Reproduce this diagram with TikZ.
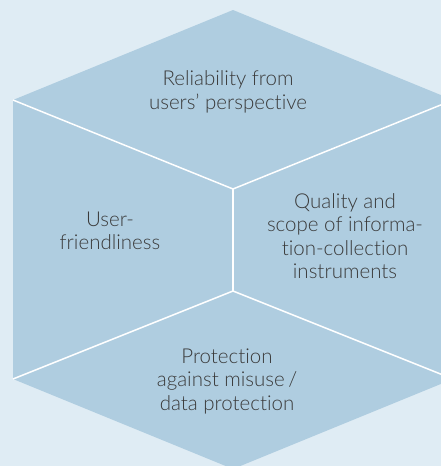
\documentclass[tikz,border=0pt]{standalone}
\usepackage{fontspec}
\setmainfont{Lato}[UprightFont=* Light, Ligatures=NoCommon]

\definecolor{bgblue}{HTML}{DFECF4}
\definecolor{hexblue}{HTML}{AFCDE0}
\definecolor{textgray}{HTML}{3A3A3A}

\begin{document}
\begin{tikzpicture}[x=1pt, y=-1pt,
   label_style/.style={align=center, text=textgray, font=\fontsize{20.5}{23.5}\selectfont},
   cut_style/.style={draw=white, line width=1.5pt}]

    \fill[bgblue] (0,0) rectangle (441,466);
    \useasboundingbox (0,0) rectangle (441,466);
    \clip (0,0) rectangle (441,466);

    % outer corners and the two inner joints
    \coordinate (top) at (233,10);
    \coordinate (ur) at (453,100);
    \coordinate (lr) at (453,379);
    \coordinate (bot) at (233,469);
    \coordinate (ll) at (13,379);
    \coordinate (ul) at (13,100);
    \coordinate (j1) at (233,189);
    \coordinate (j2) at (233,291);

    \fill[hexblue] (top) -- (ur) -- (lr) -- (bot) -- (ll) -- (ul) -- cycle;

    \draw[cut_style] (ul) -- (j1) -- (ur);
    \draw[cut_style] (j1) -- (j2);
    \draw[cut_style] (ll) -- (j2) -- (lr);

    \node[label_style] (rel) at (228,92) {Reliability from\\users’ perspective};
    \node[label_style] (usr) at (110,231) {User-\\friendliness};
    \node[label_style] (qual) at (345,236) {Quality and\\scope of informa-\\tion-collection\\instruments};
    \node[label_style] (prot) at (227,381) {Protection\\against misuse\,/\\data protection};
\end{tikzpicture}
\end{document}
